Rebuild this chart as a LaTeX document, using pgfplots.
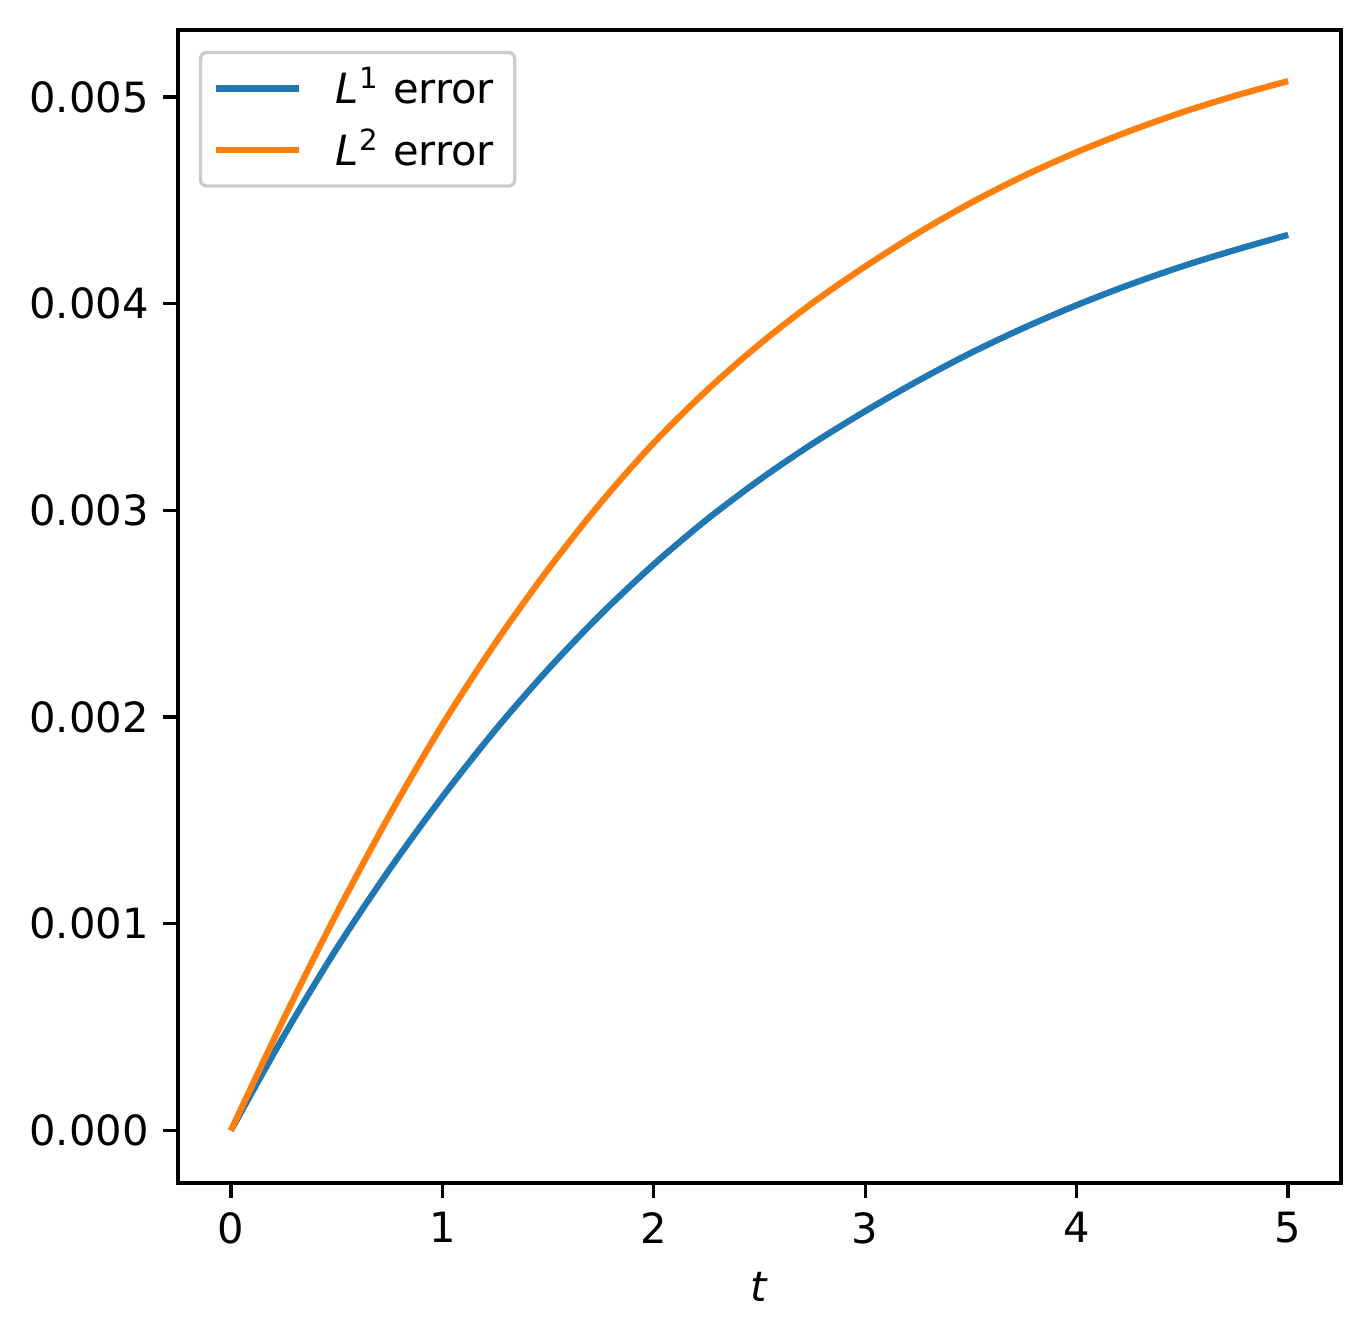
\documentclass[border=0pt]{standalone}
\usepackage{fontspec}
\setmainfont{DejaVu Sans}
\usepackage{pgfplots}
\pgfplotsset{compat=1.18}
\definecolor{cblue}{HTML}{1F77B4}
\definecolor{corange}{HTML}{FF7F0E}

\pgfplotstableread{
t     lone      ltwo
0.00  0.000000  0.000000
0.25  0.000457  0.000540
0.50  0.000880  0.001050
0.75  0.001263  0.001525
1.00  0.001614  0.001963
1.25  0.001937  0.002357
1.50  0.002231  0.002714
1.75  0.002498  0.003038
2.00  0.002739  0.003327
2.25  0.002955  0.003580
2.50  0.003148  0.003804
2.75  0.003322  0.004003
3.00  0.003480  0.004180
3.25  0.003627  0.004342
3.50  0.003762  0.004488
3.75  0.003883  0.004618
4.00  0.003993  0.004733
4.25  0.004092  0.004835
4.50  0.004181  0.004926
4.75  0.004260  0.005006
5.00  0.004333  0.005077
}\errtable

\begin{document}
\begin{tikzpicture}
\begin{axis}[
  name=ax,
  scale only axis,
  width=279.12pt, height=276.72pt,
  xmin=-0.25, xmax=5.25,
  ymin=-0.000254, ymax=0.005324,
  xtick={0,1,2,3,4,5},
  ytick={0,0.001,0.002,0.003,0.004,0.005},
  scaled y ticks=false,
  yticklabel style={/pgf/number format/.cd, fixed, fixed zerofill, precision=3},
  /pgf/number format/assume math mode=true,
  tick label style={font=\fontsize{10}{12}\selectfont},
  label style={font=\fontsize{10}{12}\selectfont},
  xtick pos=bottom, ytick pos=left,
  tick align=outside,
  major tick length=3.5pt,
  tick style={line width=0.8pt, black},
  axis line style={line width=0.8pt},
  xlabel={\textit{t}},
  legend cell align=left,
  legend style={
    at={(0,1)}, anchor=north west,
    xshift=5pt, yshift=-5pt,
    draw=black!20, line width=0.8pt, rounded corners=1.5pt,
    fill=white, fill opacity=0.8, text opacity=1,
    font=\fontsize{10}{12}\selectfont,
    inner xsep=3pt, inner ysep=1.5pt,
    row sep=0.5pt,
    /tikz/every odd column/.append style={column sep=6pt},
  },
  legend image code/.code={\draw[#1] (0pt,0pt) -- (20pt,0pt);},
]
\addplot[cblue, line width=1.5pt, smooth] table[x=t, y=lone] {\errtable};
\addlegendentry{\textit{L}\textsuperscript{1} error}
\addplot[corange, line width=1.5pt, smooth] table[x=t, y=ltwo] {\errtable};
\addlegendentry{\textit{L}\textsuperscript{2} error}
\end{axis}
\path ([xshift=-42.72pt, yshift=-37.68pt]ax.south west)
  rectangle ([xshift=6.96pt, yshift=7.2pt]ax.north east);
\end{tikzpicture}
\end{document}
